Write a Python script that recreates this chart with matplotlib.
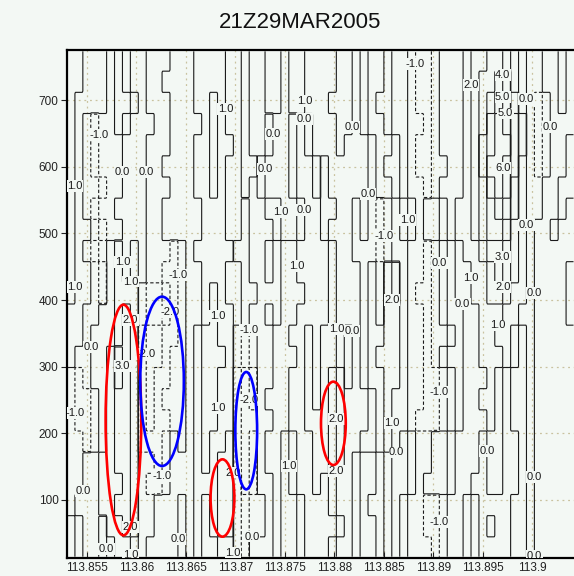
import numpy as np
import matplotlib
matplotlib.use("Agg")
import matplotlib.pyplot as plt
from matplotlib.patches import Ellipse

plt.rcParams["font.family"] = ["Liberation Sans", "DejaVu Sans"]

title = "21Z29MAR2005"

# domain of the cross-section (longitude, height)
lon_min, lon_max = 113.853, 113.9042
hgt_min, hgt_max = 13.0, 775.0

x_ticks = [113.855, 113.86, 113.865, 113.87, 113.875, 113.88, 113.885, 113.89, 113.895, 113.9]
x_tick_labels = ["113.855", "113.86", "113.865", "113.87", "113.875", "113.88",
                 "113.885", "113.89", "113.895", "113.9"]
y_ticks = [100, 200, 300, 400, 500, 600, 700]
y_tick_labels = ["100", "200", "300", "400", "500", "600", "700"]

levels = [-2, -1, 0, 1, 2, 3, 4, 5, 6]

# gridded field stored as class codes (bin centres between contour levels),
# one string per height row, top row first; 64 longitude columns split in bands
code_values = {"a": -2.5, "b": -1.5, "-": -0.5, "0": 0.5, "1": 1.5, "2": 2.5,
               "3": 3.5, "4": 4.5, "5": 5.5, "6": 6.5}

band_a = ["11000", "11000", "10000", "10-b-", "10-b-", "10-b-", "10--b", "10-b-",
          "100-b", "10-b-", "100-b", "100-b", "00--0", "00-00", "0--00", "-b-00",
          "-bb-0", "-bb-0", "--b-0", "--001", "--001", "-0001", "0-00-", "0-00-"]
band_b = ["-0-0", "-0-0", "-00-", "-0-0", "--00", "--00", "--00", "-000",
          "--00", "0101", "0101", "0111", "0121", "0121", "1321", "1321",
          "1221", "1221", "1221", "1221", "1121", "1221", "1121", "0110"]
band_c = ["0---00", "0--000", "0---00", "00--00", "0---00", "0--000", "0---00", "0--000",
          "0--000", "0---b-", "0--bb-", "-bbab-", "-bbab-", "baabb-", "baab--", "babb--",
          "bab---", "babb--", "bbb-0-", "--b-00", "-bb-00", "--000-", "--000-", "-0000-"]
band_d = ["011", "011", "011", "001", "011", "011", "011", "001",
          "001", "011", "001", "001", "001", "010", "010", "010",
          "010", "010", "010", "010", "011", "010", "010", "010"]
band_e = ["110", "110", "010", "010", "011", "010", "010", "110",
          "110", "111", "110", "010", "011", "011", "001", "011",
          "011", "011", "112", "122", "122", "122", "122", "011"]
band_f = ["010", "010", "010", "010", "010", "011", "010", "0-0",
          "0-0", "--0", "0-0", "0--", "0-0", "-b-", "-b-", "bab",
          "bab", "baa", "bab", "bab", "-ab", "-b-", "-b-", "-b0"]
band_g = ["01101100", "01101100", "01101100", "0-00-0-0", "0-00-0-0", "-000-00-", "-000-00-", "01100-00",
          "00100-00", "01011000", "01011000", "00011100", "01011000", "00110010", "00111010", "00110010",
          "01110010", "00110011", "01101001", "01101001", "00101001", "-0100100", "-0100100", "00100100"]
band_h = ["00-", "00-", "0--", "00-", "00-", "100", "100", "110",
          "100", "010", "010", "010", "010", "110", "110", "121",
          "121", "121", "121", "121", "0-0", "0-0", "00-", "0-0"]
band_i = ["-0-0010", "-0-0010", "-0-0110", "-0-0010", "000-001", "000-011", "000-001", "0-0-b-0",
          "0-0-b-0", "0---b-0", "00-0-12", "00-0-12", "00-0-11", "-0-0011", "-0-0111", "-0-0011",
          "000-010", "000-010", "00--010", "0-00-0-", "0-00-0-", "0-0--0-", "0-00-0-", "0-00-0-"]
band_j = ["0-bb-00", "0-bb-00", "0-bb-00", "0--b-00", "0-bb-00", "0-bb--0", "0--b-00", "10-00-0",
          "10-00-0", "0--b-0-", "0--b-0-", "0-bb-0-", "0--b-0-", "0--b--0", "0--b-0-", "0--bb-0",
          "0--bb-0", "0-bbb-0", "-0--00-", "-0--00-", "-0-000-", "0--bb-0", "0--bb-0", "0---b-0"]
band_k = ["012233210--00-0", "012334310--00-0", "012345420-b-0-0", "012356531-b-000",
          "012456631-b-00-", "012466530-b-00-", "012356520--00--", "112345420--00-0",
          "112344310-00-00", "011233210-00000", "001123210-0000-", "001122100-0000-",
          "-0011100--0000-", "-001100-0-00000", "-001110-0-00000", "-00010-00-00000",
          "-00110-00-00000", "-00010-00-00000", "000-00--0-00000", "000-00--0-00000",
          "00--00--0-00000", "0-0----00-00000", "0-0-0--00-00000", "0-0----00-00000"]

rows = ["".join(parts) for parts in zip(band_a, band_b, band_c, band_d, band_e, band_f,
                                         band_g, band_h, band_i, band_j, band_k)]

# ellipses marking features: centre (lon, height), width, height extent, colour
ell_lon = [113.8587, 113.8626, 113.8687, 113.8711, 113.8799]
ell_hgt = [220.0, 278.0, 103.0, 204.0, 215.0]
ell_w = [0.0036, 0.0044, 0.0024, 0.0022, 0.0025]
ell_h = [346.0, 254.0, 116.0, 176.0, 125.0]
ell_col = ["#ff0000", "#0000ff", "#ff0000", "#0000ff", "#ff0000"]

# anchor points for contour labels
lab_lon = [113.8563, 113.8541, 113.8585, 113.8612, 113.8691, 113.8741, 113.8767, 113.8767,
           113.8818, 113.8732, 113.8741, 113.8776, 113.8835, 113.8850, 113.8890, 113.8939,
           113.8973, 113.8973, 113.8996, 113.8973, 113.8973, 113.9025, 113.8991, 113.8870,
           113.8587, 113.8596, 113.8540, 113.8635, 113.8596, 113.8631, 113.8552, 113.8615,
           113.8585, 113.8759, 113.8681, 113.8711, 113.8801, 113.8818, 113.8858, 113.8907,
           113.8973, 113.8940, 113.8973, 113.8931, 113.9000, 113.8965, 113.8905, 113.8545,
           113.8623, 113.8545, 113.8596, 113.8570, 113.8596, 113.8646, 113.8680, 113.8711,
           113.8690, 113.8717, 113.8690, 113.8751, 113.8801, 113.8801, 113.8863, 113.8863,
           113.8953, 113.9000, 113.8908, 113.9000]
lab_hgt = [647.5, 571, 592, 592, 686.5, 649, 698.5, 671.5,
           659.5, 596.5, 532, 535, 559, 496, 754, 722.5,
           737.5, 704.5, 701.5, 677.5, 598, 659.5, 512.5, 520,
           457, 427, 419.5, 437.5, 370, 382, 329.5, 319,
           301, 451, 376, 355, 356.5, 353.5, 400, 455.5,
           464.5, 433, 419.5, 398.5, 410.5, 358, 262, 230.5,
           136, 113.5, 59.5, 26.5, 17.5, 41.5, 238, 250,
           140.5, 47.5, 20.5, 151, 221.5, 143.5, 215.5, 166,
           173.5, 134.5, 67, 16]

bg = "#f3f8f4"
line_col = "#1a1a1a"

# build field and refine to nearest-neighbour sub-cells for blocky contours
Z = np.array([[code_values[ch] for ch in row] for row in rows])[::-1]
ny, nx = Z.shape
ref = 8
Zf = np.repeat(np.repeat(Z, ref, axis=0), ref, axis=1)
dx = (lon_max - lon_min) / nx
dy = (hgt_max - hgt_min) / ny
xf = lon_min + (np.arange(nx * ref) + 0.5) * dx / ref
yf = hgt_min + (np.arange(ny * ref) + 0.5) * dy / ref

fig = plt.figure(figsize=(5.74, 5.76), dpi=100, facecolor=bg)
ax = fig.add_axes([67 / 574, 18 / 576, 507 / 574, 508 / 576], facecolor=bg)

styles = [(0, (3, 2)) if lv < 0 else "solid" for lv in levels]
cs = ax.contour(xf, yf, Zf, levels=levels, colors=line_col, linewidths=0.8,
                linestyles=styles, zorder=2)

texts = ax.clabel(cs, levels=levels, fmt="%.1f", fontsize=8, inline=False,
                  colors=line_col, manual=list(zip(lab_lon, lab_hgt)))
for t in texts:
    t.set_rotation(0)
    t.set_bbox(dict(boxstyle="square,pad=0.05", fc=bg, ec="none"))

for lo, hg, w, h, c in zip(ell_lon, ell_hgt, ell_w, ell_h, ell_col):
    ax.add_patch(Ellipse((lo, hg), w, h, fill=False, ec=c, lw=1.9, zorder=6))

ax.set_xlim(lon_min, lon_max)
ax.set_ylim(hgt_min, hgt_max)
ax.set_xticks(x_ticks)
ax.set_xticklabels(x_tick_labels)
ax.set_yticks(y_ticks)
ax.set_yticklabels(y_tick_labels)
ax.tick_params(axis="both", labelsize=8.5, colors="#222222", length=4, width=0.8)
ax.tick_params(axis="x", direction="in", pad=3)
ax.tick_params(axis="y", direction="out", pad=2)
ax.grid(True, color="#c9c29f", linestyle=(0, (1.5, 3)), linewidth=0.9, zorder=0)
ax.set_axisbelow(True)

for side in ("left", "top", "bottom"):
    ax.spines[side].set_linewidth(1.6)
    ax.spines[side].set_color("#000000")
ax.spines["right"].set_visible(False)

fig.text(300 / 574, 1 - 23 / 576, title, ha="center", va="center", fontsize=16,
         color="#111111")

fig.savefig("out.png", dpi=100, facecolor=bg)
